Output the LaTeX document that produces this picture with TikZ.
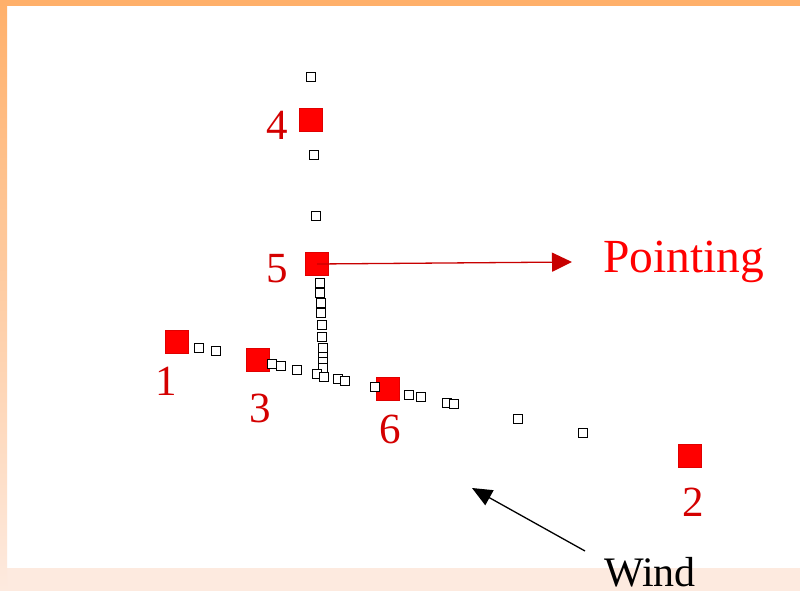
\documentclass[tikz,border=0pt]{standalone}
\usepackage{fontspec}
\setmainfont{Liberation Serif}
\usetikzlibrary{arrows.meta}
\definecolor{bord}{HTML}{FFB06A}
\definecolor{peach}{HTML}{FDEADF}
\definecolor{lblred}{HTML}{D40000}
\definecolor{arrred}{HTML}{C80000}
\begin{document}
\begin{tikzpicture}[x=1pt,y=-1pt,
  bigsq/.style={draw=red!88!black,line width=0.6pt,fill=red,minimum size=22.5pt,inner sep=0pt,outer sep=0pt},
  smsq/.style={draw=black,line width=1.25pt,fill=white,minimum size=8.3pt,inner sep=0pt},
  num/.style={text=lblred,font=\fontsize{43}{46}\selectfont,inner sep=0pt},
  ptr/.style={draw=arrred,line width=1.3pt,-{Triangle[length=20pt,width=19pt]}},
  windarr/.style={draw=black,line width=1.3pt,-{Triangle[length=20pt,width=17pt]}}]
\useasboundingbox (0,0) rectangle (800,591);
\fill[white] (0,0) rectangle (800,591);
\fill[peach] (0,568) rectangle (800,591);
\shade[top color=bord,bottom color=peach] (0,0) rectangle (7,591);
\fill[bord] (0,0) rectangle (800,6);
% big squares
\node[bigsq] (p1) at (177,342) {};
\node[bigsq] (p2) at (690,456) {};
\node[bigsq] (p3) at (258,360) {};
\node[bigsq] (p4) at (311,120) {};
\node[bigsq] (p5) at (317,264) {};
\node[bigsq] (p6) at (388,389) {};
% small squares
\node[smsq] (s1) at (311,77) {};
\node[smsq] (s2) at (314,155) {};
\node[smsq] (s3) at (316,216) {};
\node[smsq] (s4) at (320,283) {};
\node[smsq] (s5) at (320,293) {};
\node[smsq] (s6) at (321,303) {};
\node[smsq] (s7) at (321,313) {};
\node[smsq] (s8) at (322,325) {};
\node[smsq] (s9) at (322,337) {};
\node[smsq] (s10) at (323,348) {};
\node[smsq] (s11) at (323,357) {};
\node[smsq] (s12) at (323,362) {};
\node[smsq] (s13) at (323,368) {};
\node[smsq] (s14) at (317,374) {};
\node[smsq] (s15) at (324,377) {};
\node[smsq] (s16) at (338,379) {};
\node[smsq] (s17) at (345,381) {};
\node[smsq] (s18) at (297,370) {};
\node[smsq] (s19) at (272,364) {};
\node[smsq] (s20) at (281,366) {};
\node[smsq] (s21) at (199,348) {};
\node[smsq] (s22) at (216,351) {};
\node[smsq] (s23) at (375,387) {};
\node[smsq] (s24) at (409,395) {};
\node[smsq] (s25) at (421,397) {};
\node[smsq] (s26) at (447,403) {};
\node[smsq] (s27) at (454,404) {};
\node[smsq] (s28) at (518,419) {};
\node[smsq] (s29) at (583,433) {};
% labels
\node[num] (l1) at (166,381) {1};
\node[num] (l2) at (693,502) {2};
\node[num] (l3) at (260,408) {3};
\node[num] (l4) at (277,125) {4};
\node[num] (l5) at (277,269) {5};
\node[num] (l6) at (390,429) {6};
\node[text=red,font=\fontsize{47.5}{50}\selectfont,inner sep=0pt,anchor=base west] (pt) at (603,272) {Pointing};
\node[text=black,font=\fontsize{42}{45}\selectfont,inner sep=0pt,text depth=0pt,anchor=base west] (wind) at (604,586) {Wind};
% arrows
\coordinate (ptip) at (572,262);
\draw[ptr] (p5.center) -- (ptip);
\coordinate (wstart) at (585,551);
\coordinate (wtip) at (472,488);
\draw[windarr] (wstart) -- (wtip);
\end{tikzpicture}
\end{document}
